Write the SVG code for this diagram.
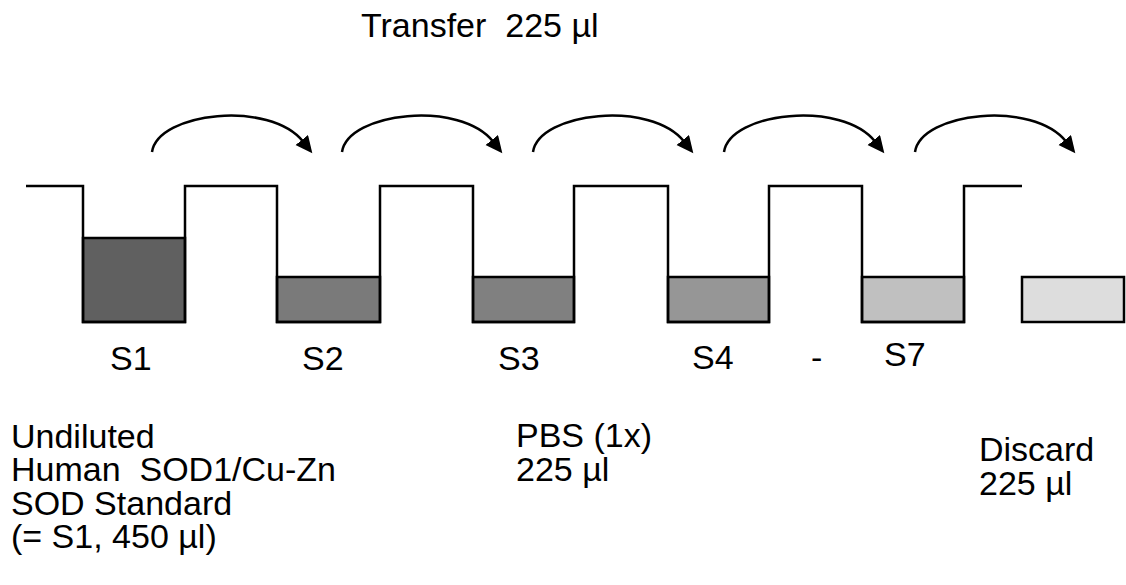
<svg xmlns="http://www.w3.org/2000/svg" width="1126" height="585" viewBox="0 0 1126 585">
  <style>
    .t { font-family: "Liberation Sans", Arial, sans-serif; font-size: 34px; fill: #000; }
    .well { fill: none; stroke: #000; stroke-width: 2.5; stroke-linejoin: miter; }
    .liq { stroke: #000; stroke-width: 2.5; }
    .arc { fill: none; stroke: #000; stroke-width: 2.5; }
  </style>
  <defs>
    <marker id="ah" markerUnits="userSpaceOnUse" markerWidth="20" markerHeight="18" viewBox="0 0 20 18" refX="2" refY="8" orient="auto">
      <path d="M0,0 L17,8 L0,16 z" fill="#000"/>
    </marker>
    <path id="arcShape" class="arc" d="M152,152 C158,112 270,100 303,141.5" marker-end="url(#ah)"/>
  </defs>

  <rect width="1126" height="585" fill="#fff"/>

  <g id="title">
    <text class="t" x="361" y="37" font-size="33" xml:space="preserve">Transfer  225 µl</text>
  </g>

  <g id="connectors">
    <use href="#arcShape"/>
    <use href="#arcShape" transform="translate(190,0)"/>
    <use href="#arcShape" transform="translate(381,0)"/>
    <use href="#arcShape" transform="translate(572,0)"/>
    <use href="#arcShape" transform="translate(763,0)"/>
  </g>

  <g id="liquids">
    <rect id="liq-s1" class="liq" x="83" y="238" width="102" height="84" fill="#606060"/>
    <rect id="liq-s2" class="liq" x="277" y="277" width="103" height="45" fill="#7a7a7a"/>
    <rect id="liq-s3" class="liq" x="473" y="277" width="101" height="45" fill="#808080"/>
    <rect id="liq-s4" class="liq" x="668" y="277" width="101" height="45" fill="#969696"/>
    <rect id="liq-s7" class="liq" x="862" y="277" width="102" height="45" fill="#c0c0c0"/>
    <rect id="discard-box" class="liq" x="1022" y="277" width="102" height="45" fill="#dddddd"/>
  </g>

  <g id="plate">
    <path class="well" d="M26,186 H83 V322 H185 V186 H277 V322 H380 V186 H473 V322 H574 V186 H668 V322 H769 V186 H862 V322 H964 V186 H1022"/>
  </g>

  <g id="labels">
    <text class="t" x="110" y="370">S1</text>
    <text class="t" x="302" y="370">S2</text>
    <text class="t" x="498" y="370">S3</text>
    <text class="t" x="692" y="369">S4</text>
    <text class="t" x="811" y="369">-</text>
    <text class="t" x="884" y="366">S7</text>
  </g>

  <g id="note-s1">
    <text class="t" x="11" y="448" xml:space="preserve">Undiluted</text>
    <text class="t" x="11" y="481" xml:space="preserve">Human  SOD1/Cu-Zn</text>
    <text class="t" x="11" y="515" xml:space="preserve">SOD Standard</text>
    <text class="t" x="11" y="548" xml:space="preserve">(= S1, 450 µl)</text>
  </g>

  <g id="note-pbs">
    <text class="t" x="516" y="447">PBS (1x)</text>
    <text class="t" x="516" y="481">225 µl</text>
  </g>

  <g id="note-discard">
    <text class="t" x="979" y="461">Discard</text>
    <text class="t" x="979" y="495">225 µl</text>
  </g>
</svg>
